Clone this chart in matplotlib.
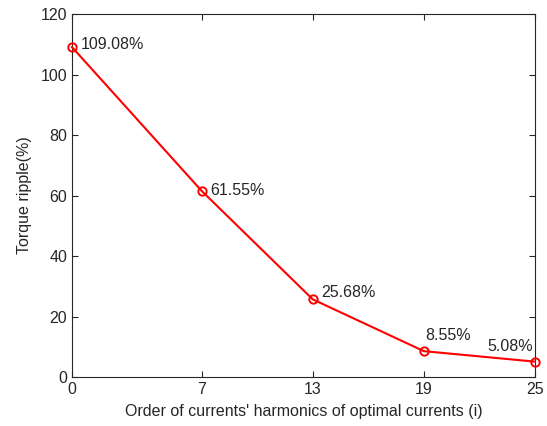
import matplotlib
matplotlib.use("Agg")
import matplotlib.pyplot as plt

plt.rcParams['font.family'] = ['Liberation Sans', 'DejaVu Sans']

orders = [0, 7, 13, 19, 25]
ripple = [109.08, 61.55, 25.68, 8.55, 5.08]
labels = ["109.08%", "61.55%", "25.68%", "8.55%", "5.08%"]
# offsets in points (dx, dy) for each label
offsets = [(6, 2), (6, 0), (6, 5), (1, 11), (-34, 11)]

fig = plt.figure(figsize=(5.47, 4.26), dpi=100)
ax = fig.add_axes([0.1316, 0.115, 0.8464, 0.852])
ax.plot(orders, ripple, color='red', lw=1.5, marker='o', ms=6,
        mfc='none', mec='red', mew=1.4, clip_on=False, zorder=3)
for x, y, t, (dx, dy) in zip(orders, ripple, labels, offsets):
    ax.annotate(t, (x, y), xytext=(dx, dy), textcoords='offset points',
                ha='left', va='center', fontsize=11.5, color='#262626')

ax.set_xlim(0, 25)
ax.set_ylim(0, 120)
ax.set_xticks(orders)
ax.set_yticks(range(0, 121, 20))
ax.tick_params(direction='in', top=True, right=True, labelsize=11.5,
               colors='#262626', length=4, width=0.8)
for s in ax.spines.values():
    s.set_color('#262626')
    s.set_linewidth(0.8)
ax.set_xlabel("Order of currents' harmonics of optimal currents (i)",
              fontsize=11.5, color='#262626', labelpad=5)
ax.set_ylabel("Torque ripple(%)", fontsize=11.5, color='#262626', labelpad=6)
fig.savefig("out.png", dpi=100)
